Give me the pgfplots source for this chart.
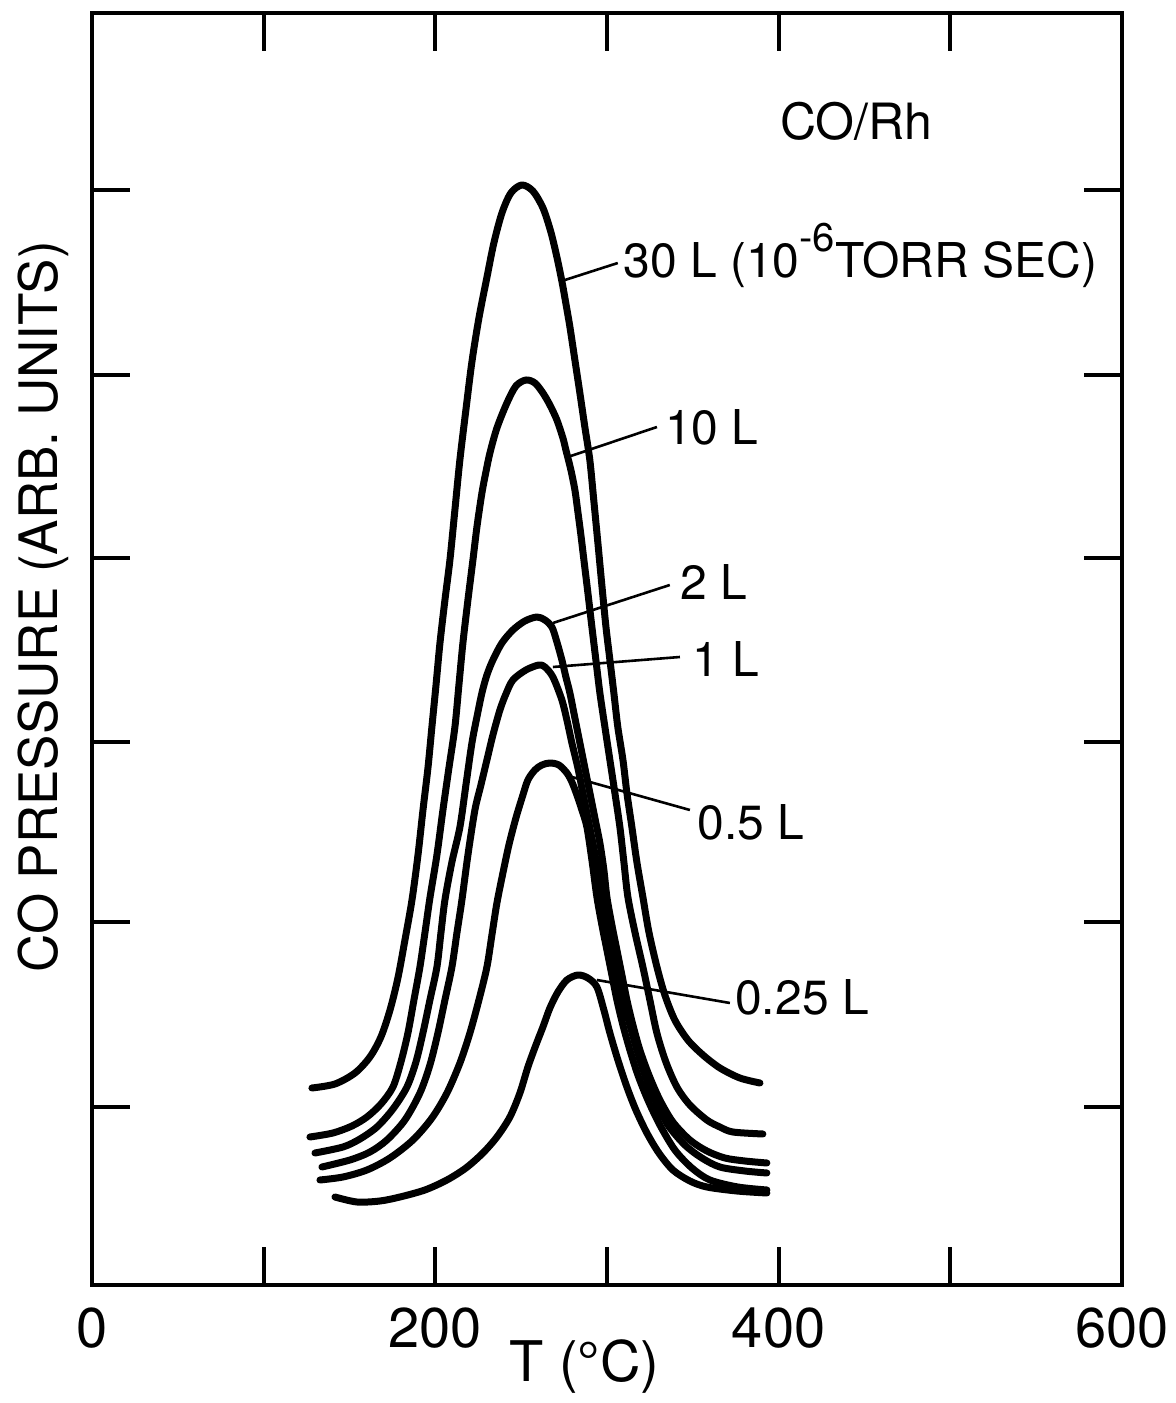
\documentclass[border=0pt]{standalone}
\usepackage{fontspec}
\setmainfont{TeX Gyre Heros}
\usepackage{pgfplots}
\pgfplotsset{compat=1.18}
\begin{document}
\begin{tikzpicture}
\begin{axis}[
 width=515pt, height=636pt, scale only axis,
 xmin=0, xmax=600, ymin=0, ymax=12.72,
 axis line style={line width=2.2pt},
 xtick={0,100,200,300,400,500,600},
 xticklabels={0,,200,,400,,600},
 ytick={1.78,3.63,5.43,7.27,9.10,10.95},
 yticklabels={},
 tick align=inside,
 major tick length=19pt,
 tick style={line width=2pt, black},
 ticklabel style={font=\fontsize{28}{30}\selectfont},
 xticklabel style={yshift=-8pt},
 /pgf/number format/assume math mode=true,
 xlabel={T (°C)},
 xlabel style={font=\fontsize{28}{30}\selectfont, at={(axis description cs:0.478,0)}, anchor=north, yshift=-24pt},
 ylabel={CO PRESSURE (ARB. UNITS)},
 ylabel style={font=\fontsize{26.5}{28}\selectfont, at={(axis description cs:-0.016,0.533)}, anchor=south},
 curve/.style={line width=3.5pt, black, smooth, tension=0.5, mark=none, line cap=round, line join=round},
 clip=false,
]
% 30 L
\addplot[curve] coordinates {(128.1,1.97) (141.5,2.01) (153.2,2.12) (161.9,2.28) (168.3,2.48) (173.6,2.75) (178.2,3.07) (182.3,3.45) (186.4,3.85) (189.9,4.30) (192.8,4.75) (195.7,5.17) (198.0,5.58) (200.4,6.00) (202.7,6.42) (205.6,6.85) (208.5,7.25) (211.4,7.75) (214.3,8.25) (217.8,8.75) (221.3,9.23) (225.4,9.67) (230.1,10.08) (234.1,10.42) (238.8,10.72) (244.0,10.92) (250.4,11.00) (256.8,10.94) (262.7,10.77) (267.3,10.53) (270.8,10.28) (273.7,10.04) (276.1,9.81) (278.4,9.58) (281.3,9.25) (284.2,8.92) (287.1,8.58) (290.0,8.25) (292.4,7.83) (294.7,7.42) (297.0,7.00) (299.4,6.58) (301.7,6.25) (304.0,5.92) (306.3,5.58) (309.3,5.25) (311.6,4.92) (314.5,4.58) (317.4,4.23) (320.9,3.88) (324.4,3.53) (329.1,3.18) (333.7,2.90) (339.5,2.65) (347.1,2.45) (355.9,2.30) (365.8,2.17) (377.4,2.07) (389.1,2.02)};
% 10 L
\addplot[curve] coordinates {(126.96,1.48) (140.36,1.52) (151.43,1.59) (160.16,1.68) (168.32,1.81) (175.31,1.98) (179.96,2.23) (184.04,2.52) (187.54,2.85) (191.03,3.18) (193.94,3.52) (196.85,3.87) (200.93,4.30) (204.43,4.75) (207.92,5.17) (211.41,5.58) (213.74,6.00) (216.07,6.42) (218.99,6.85) (221.90,7.25) (224.23,7.58) (227.14,7.92) (229.47,8.13) (231.80,8.32) (235.88,8.57) (241.70,8.82) (246.94,8.99) (252.77,9.05) (258.01,9.02) (262.67,8.92) (266.74,8.80) (270.82,8.65) (274.32,8.47) (276.06,8.35) (278.97,8.15) (281.30,7.95) (283.05,7.73) (284.80,7.50) (286.55,7.25) (288.88,6.92) (291.21,6.58) (293.53,6.25) (295.86,5.92) (298.78,5.58) (301.69,5.25) (304.60,4.92) (307.51,4.58) (309.84,4.23) (312.17,3.88) (316.25,3.53) (320.91,3.18) (324.98,2.85) (329.06,2.52) (334.30,2.23) (340.71,1.98) (348.28,1.80) (358.18,1.65) (365.75,1.58) (373.33,1.53) (390.80,1.51)};
% 2 L
\addplot[curve] coordinates {(129.88,1.32) (146.19,1.38) (156.09,1.46) (165.99,1.58) (175.31,1.76) (183.46,1.98) (188.70,2.23) (192.78,2.52) (196.85,2.85) (200.93,3.18) (203.26,3.52) (205.59,3.85) (209.67,4.23) (214.33,4.58) (217.82,5.00) (221.32,5.42) (224.23,5.68) (227.14,5.92) (230.05,6.10) (233.55,6.25) (238.79,6.42) (245.19,6.55) (252.18,6.64) (259.17,6.68) (263.83,6.65) (267.91,6.58) (270.82,6.43) (273.73,6.25) (276.06,6.08) (278.39,5.92) (281.30,5.67) (284.22,5.42) (287.13,5.17) (290.04,4.92) (292.95,4.67) (295.86,4.42) (298.19,4.15) (299.94,3.88) (302.85,3.60) (305.77,3.35) (308.68,3.10) (311.59,2.85) (315.08,2.60) (319.16,2.35) (324.40,2.10) (330.81,1.85) (338.38,1.63) (348.28,1.45) (358.18,1.34) (368.67,1.27) (380.31,1.24) (393.13,1.22)};
% 1 L
\addplot[curve] coordinates {(133.95,1.18) (150.26,1.25) (161.91,1.33) (171.81,1.45) (182.29,1.65) (191.03,1.92) (196.85,2.20) (201.51,2.52) (205.59,2.85) (209.67,3.18) (212.58,3.52) (215.49,3.85) (218.99,4.30) (223.06,4.75) (226.56,5.00) (230.05,5.25) (233.55,5.50) (237.62,5.75) (241.12,5.91) (245.19,6.05) (252.77,6.15) (260.34,6.20) (263.83,6.18) (268.49,6.08) (273.73,5.85) (276.64,5.65) (279.56,5.42) (283.05,5.17) (285.96,4.92) (288.88,4.67) (291.79,4.42) (294.70,4.15) (297.61,3.88) (300.52,3.60) (303.44,3.35) (306.35,3.10) (309.26,2.85) (313.34,2.60) (317.41,2.35) (322.07,2.10) (327.90,1.85) (335.47,1.60) (345.37,1.40) (355.27,1.27) (365.75,1.18) (380.31,1.14) (393.13,1.12)};
% 0.5 L
\addplot[curve] coordinates {(132.79,1.05) (146.19,1.08) (160.16,1.15) (173.56,1.27) (186.95,1.45) (198.02,1.67) (206.76,1.92) (214.33,2.22) (220.15,2.52) (225.39,2.85) (230.05,3.18) (232.96,3.50) (235.88,3.82) (239.37,4.12) (242.86,4.40) (246.94,4.67) (251.02,4.90) (253.93,5.05) (258.01,5.15) (262.08,5.20) (266.74,5.22) (271.99,5.20) (276.64,5.12) (279.56,5.03) (282.47,4.90) (285.38,4.75) (288.29,4.58) (291.21,4.25) (294.12,3.88) (297.03,3.60) (299.94,3.35) (302.85,3.10) (305.77,2.85) (309.26,2.60) (313.34,2.35) (318.00,2.10) (323.82,1.85) (330.81,1.60) (339.54,1.35) (349.45,1.17) (359.93,1.05) (376.24,0.98) (393.13,0.95)};
% 0.25 L
\addplot[curve] coordinates {(141.53,0.88) (154.34,0.83) (167.73,0.84) (179.38,0.88) (193.94,0.95) (206.76,1.05) (217.82,1.17) (227.72,1.32) (235.88,1.48) (243.45,1.68) (249.27,1.92) (253.93,2.18) (258.59,2.40) (262.67,2.58) (266.74,2.77) (271.40,2.93) (276.64,3.05) (283.05,3.10) (288.88,3.07) (294.12,2.98) (298.19,2.75) (301.69,2.52) (306.35,2.25) (311.59,1.98) (316.83,1.75) (323.24,1.52) (330.23,1.32) (338.38,1.15) (348.28,1.04) (358.18,0.98) (375.65,0.94) (393.13,0.92)};
% leader lines
\draw[line width=1.3pt] (axis cs:273.7,10.04) -- (axis cs:306.3,10.22);
\draw[line width=1.3pt] (axis cs:277.2,8.28) -- (axis cs:329.1,8.58);
\draw[line width=1.3pt] (axis cs:268.5,6.62) -- (axis cs:336.6,7.00);
\draw[line width=1.3pt] (axis cs:268.5,6.18) -- (axis cs:342.5,6.28);
\draw[line width=1.3pt] (axis cs:279.6,5.08) -- (axis cs:348.3,4.75);
\draw[line width=1.3pt] (axis cs:294.1,3.05) -- (axis cs:371.6,2.82);
% labels
\node[anchor=base west, inner sep=0pt, font=\fontsize{24}{26}\selectfont] at (axis cs:309.3,10.07) {30 L (10\raisebox{13pt}{\fontsize{20}{20}\selectfont -6}TORR SEC)};
\node[anchor=base west, inner sep=0pt, font=\fontsize{24}{26}\selectfont] at (axis cs:333.7,8.40) {10 L};
\node[anchor=base west, inner sep=0pt, font=\fontsize{24}{26}\selectfont] at (axis cs:342.5,6.85) {2 L};
\node[anchor=base west, inner sep=0pt, font=\fontsize{24}{26}\selectfont] at (axis cs:349.4,6.08) {1 L};
\node[anchor=base west, inner sep=0pt, font=\fontsize{24}{26}\selectfont] at (axis cs:352.4,4.45) {0.5 L};
\node[anchor=base west, inner sep=0pt, font=\fontsize{24}{26}\selectfont] at (axis cs:374.5,2.70) {0.25 L};
\node[anchor=base west, inner sep=0pt, font=\fontsize{25}{28}\selectfont] at (axis cs:400.7,11.45) {CO/Rh};
\end{axis}
\pgfresetboundingbox
\useasboundingbox ([xshift=-46pt,yshift=-59pt]current axis.south west) rectangle ([xshift=27pt,yshift=6.5pt]current axis.north east);
\end{tikzpicture}
\end{document}
